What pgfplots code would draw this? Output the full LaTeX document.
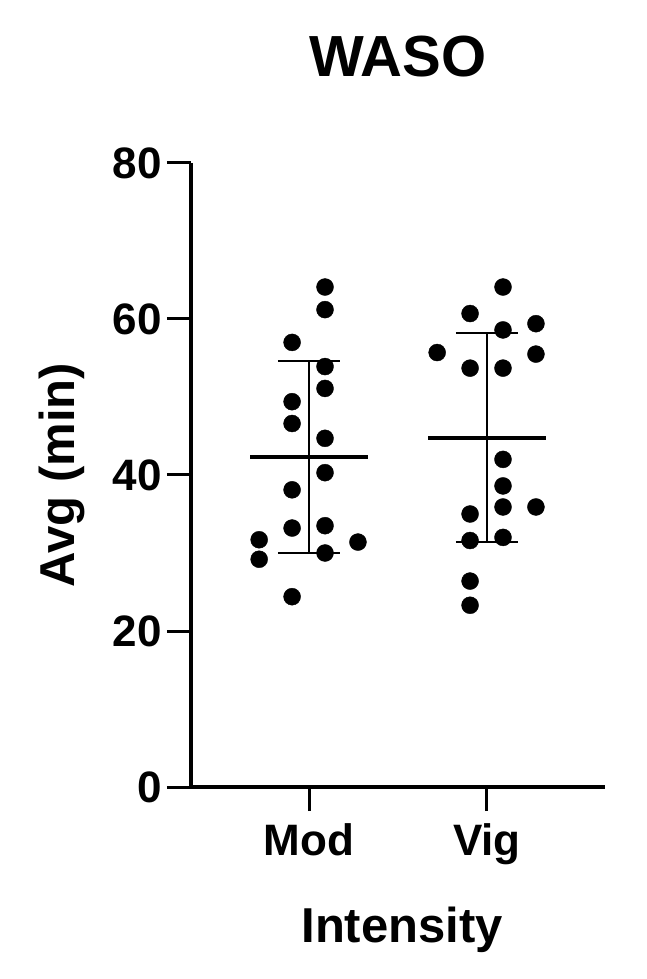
\documentclass[border=0pt]{standalone}
\usepackage{fontspec}
\setmainfont{Liberation Sans}
\usepackage{pgfplots}
\pgfplotsset{compat=1.18}

\begin{document}
\begin{tikzpicture}
\useasboundingbox (-191pt,-192pt) rectangle (456pt,787pt);
\begin{axis}[
    at={(0pt,0pt)}, anchor=south west,
    scale only axis,
    width=414pt, height=624pt,
    xmin=-0.663, xmax=1.663,
    ymin=0, ymax=80,
    clip=false,
    axis x line*=bottom,
    axis y line*=left,
    axis line style={-, line width=3.5pt},
    tick align=outside,
    major tick length=24pt,
    tick style={black, line width=3pt},
    xtick={0,1},
    xticklabels={Mod,Vig},
    ytick={0,20,40,60,80},
    /pgf/number format/assume math mode=true,
    tick label style={font=\fontsize{44}{48}\selectfont\bfseries},
    yticklabel style={inner sep=0pt, xshift=-5pt},
    xticklabel style={inner sep=0pt, yshift=-12pt},
    title={WASO},
    title style={font=\fontsize{58}{62}\selectfont\bfseries,
        at={(axis description cs:0.5,1.1282)}, anchor=base},
    xlabel={Intensity},
    xlabel style={font=\fontsize{49}{54}\selectfont\bfseries,
        at={(axis description cs:0.51,-0.2484)}, anchor=base},
    ylabel={Avg (min)},
    ylabel style={font=\fontsize{49}{54}\selectfont\bfseries,
        at={(axis description cs:-0.2802,0.5)}, anchor=base},
]
% mean and SD, Mod
\addplot[black, line width=4pt] coordinates {(-0.33,42.3) (0.33,42.3)};
\addplot[black, line width=2pt] coordinates {(0,30.0) (0,54.6)};
\addplot[black, line width=2pt] coordinates {(-0.175,54.6) (0.175,54.6)};
\addplot[black, line width=2pt] coordinates {(-0.175,30.0) (0.175,30.0)};
% mean and SD, Vig
\addplot[black, line width=4pt] coordinates {(0.67,44.8) (1.33,44.8)};
\addplot[black, line width=2pt] coordinates {(1,31.4) (1,58.2)};
\addplot[black, line width=2pt] coordinates {(0.825,58.2) (1.175,58.2)};
\addplot[black, line width=2pt] coordinates {(0.825,31.4) (1.175,31.4)};

% individual points
\addplot[only marks, mark=*, mark size=8.5pt, black] table {
x y
-0.28 31.7
-0.28 29.2
-0.095 57.0
-0.095 49.4
-0.095 46.6
-0.095 38.1
-0.095 33.2
-0.095 24.4
0.09 64.1
0.09 61.2
0.09 53.9
0.09 51.1
0.09 44.7
0.09 40.3
0.09 33.5
0.09 30.0
0.275 31.4
};
\addplot[only marks, mark=*, mark size=8.5pt, black] table {
x y
0.72 55.7
0.905 60.7
0.905 53.7
0.905 35.0
0.905 31.6
0.905 26.4
0.905 23.3
1.09 64.1
1.09 58.6
1.09 53.7
1.09 42.0
1.09 38.6
1.09 35.9
1.09 32.0
1.275 59.4
1.275 55.5
1.275 35.9
};
\end{axis}
\end{tikzpicture}
\end{document}
